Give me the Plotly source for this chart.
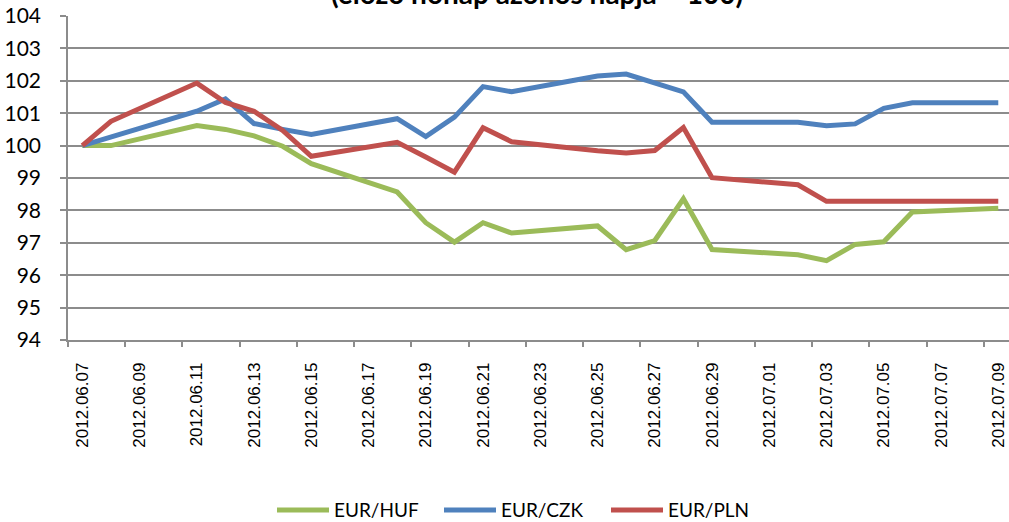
import plotly.graph_objects as go

dates = ["2012-06-07", "2012-06-08", "2012-06-11", "2012-06-12", "2012-06-13", "2012-06-14",
         "2012-06-15", "2012-06-18", "2012-06-19", "2012-06-20", "2012-06-21", "2012-06-22",
         "2012-06-25", "2012-06-26", "2012-06-27", "2012-06-28", "2012-06-29", "2012-07-02",
         "2012-07-03", "2012-07-04", "2012-07-05", "2012-07-06", "2012-07-09"]

eur_huf = [100.0, 100.0, 100.62, 100.5, 100.3, 99.98, 99.44, 98.57, 97.62, 97.02, 97.62, 97.3,
           97.52, 96.79, 97.07, 98.36, 96.79, 96.63, 96.45, 96.95, 97.03, 97.95, 98.07]
eur_czk = [100.0, 100.27, 101.06, 101.44, 100.68, 100.5, 100.34, 100.83, 100.28, 100.88, 101.82, 101.66,
           102.15, 102.21, 101.95, 101.66, 100.72, 100.72, 100.61, 100.67, 101.15, 101.32, 101.32]
eur_pln = [100.0, 100.75, 101.93, 101.33, 101.06, 100.47, 99.67, 100.1, 99.65, 99.18, 100.55, 100.12,
           99.84, 99.77, 99.85, 100.56, 99.01, 98.79, 98.28, 98.28, 98.28, 98.28, 98.28]

series = [("EUR/HUF", eur_huf, "#9BBB59"),
          ("EUR/CZK", eur_czk, "#4F81BD"),
          ("EUR/PLN", eur_pln, "#C0504D")]

title_text = "(előző hónap azonos napja = 100)"
y_ticks = list(range(94, 105))

fig = go.Figure()
for name, vals, col in series:
    fig.add_trace(go.Scatter(x=dates, y=vals, name=name, mode="lines",
                             line=dict(color=col, width=5)))

# invisible trace to carry the tick-only axis
fig.add_trace(go.Scatter(x=[dates[0]], y=[100], xaxis="x2", mode="markers",
                         marker=dict(opacity=0), showlegend=False, hoverinfo="skip"))

x_range = ["2012-06-06 12:00", "2012-07-09 09:00"]
grid_col = "#8c8c8c"

fig.update_layout(
    width=1009, height=522,
    margin=dict(l=68, r=0, t=16, b=182, autoexpand=False),
    paper_bgcolor="white", plot_bgcolor="white",
    font=dict(family="Lato, Liberation Sans, sans-serif", color="black"),
    showlegend=True,
    legend=dict(orientation="h", x=0.483, xanchor="center", y=-0.525, yanchor="middle",
                font=dict(size=19, family="Lato, sans-serif"),
                itemwidth=52, entrywidth=100, entrywidthmode="pixels"),
    xaxis=dict(type="date", range=x_range, tick0="2012-06-07", dtick=2 * 86400000,
               tickformat="%Y.%m.%d", tickangle=-90, ticks="", showgrid=False,
               showline=True, linecolor=grid_col, linewidth=1.5,
               tickfont=dict(family="Liberation Sans, Arial, sans-serif", size=17),
               ticklabelstandoff=14, automargin=False, zeroline=False),
    xaxis2=dict(type="date", range=x_range, overlaying="x", side="bottom",
                tick0="2012-06-06 12:00", dtick=2 * 86400000, ticks="outside",
                ticklen=6, tickcolor=grid_col, tickwidth=1.5, showticklabels=False,
                showgrid=False, showline=False, zeroline=False, automargin=False,
                anchor="y"),
    yaxis=dict(range=[94, 104], tickvals=y_ticks, ticks="outside", ticklen=6,
               tickcolor=grid_col, tickwidth=1.5, showgrid=True, gridcolor=grid_col,
               gridwidth=1.5, showline=True, linecolor=grid_col, linewidth=1.5,
               tickfont=dict(size=21, family="Lato, sans-serif"),
               ticklabelstandoff=15, automargin=False, zeroline=False),
    annotations=[dict(text="<b>" + title_text + "</b>", xref="paper", yref="paper",
                      x=0.498, y=1.0123, xanchor="center", yanchor="bottom",
                      showarrow=False, font=dict(size=28, family="Lato, sans-serif"))],
)

fig.write_html("out.html", config={"displayModeBar": False},
               post_script="document.body.style.margin='0px';")
